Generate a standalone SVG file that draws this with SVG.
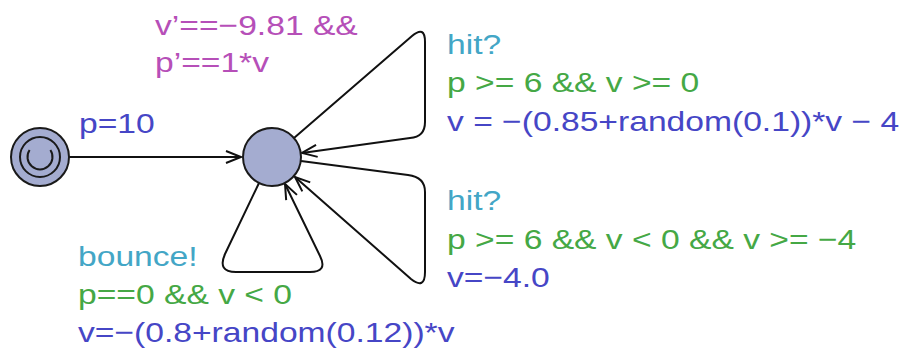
<svg xmlns="http://www.w3.org/2000/svg" width="904" height="350" viewBox="0 0 904 350">
<style>
.bg{fill:#ffffff}
.node{fill:#a4acd0;stroke:#1a1a1a;stroke-width:2}
.ring{fill:none;stroke:#1a1a1a;stroke-width:2}
.edge{fill:none;stroke:#111;stroke-width:2;stroke-linejoin:round}
.t{font-family:"Liberation Sans",Arial,sans-serif;font-size:28.5px}
.inv{fill:#b64fb8}
.sync{fill:#43a6c6}
.guard{fill:#45a845}
.asg{fill:#4646c6}
</style>
<defs>
<marker id="arr" markerUnits="userSpaceOnUse" markerWidth="20" markerHeight="16" viewBox="-16 -8 18 16" refX="0" refY="0" orient="auto">
<path d="M -15 -6 L 0 0 L -15 6" fill="none" stroke="#111" stroke-width="2"/>
</marker>
</defs>
<rect class="bg" x="0" y="0" width="904" height="350"/>
<g id="edges">
<path class="edge" d="M 69 157 L 241 157" marker-end="url(#arr)"/>
<path class="edge" d="M 294 138 L 412 36 Q 425 25 425 42 L 425 122 Q 425 137 410 138 L 302 153" marker-end="url(#arr)"/>
<path class="edge" d="M 301 161 L 408 175 Q 425 177 425 192 L 425 272 Q 425 290 411 279 L 295 177" marker-end="url(#arr)"/>
<path class="edge" d="M 259 183 L 225 254 Q 217 272 236 272 L 310 272 Q 328 272 320 256 L 285 184" marker-end="url(#arr)"/>
</g>
<g id="init">
<circle class="node" cx="40" cy="157" r="29"/>
<circle class="ring" cx="40" cy="157" r="20"/>
<path class="ring" d="M 50.4 150 A 12.5 12.5 0 1 1 29.6 150"/>
</g>
<g id="main">
<circle class="node" cx="272" cy="157" r="29"/>
</g>
<g id="labels">
<text class="t asg" transform="translate(79 133) scale(1.18 1)">p=10</text>
<text class="t inv" transform="translate(155 35) scale(1.18 1)">v’==−9.81 &amp;&amp;</text>
<text class="t inv" transform="translate(155 72) scale(1.18 1)">p’==1*v</text>
<text class="t sync" transform="translate(447 54) scale(1.18 1)">hit?</text>
<text class="t guard" transform="translate(447 92) scale(1.18 1)">p &gt;= 6 &amp;&amp; v &gt;= 0</text>
<text class="t asg" transform="translate(447 131) scale(1.18 1)">v = −(0.85+random(0.1))*v − 4</text>
<text class="t sync" transform="translate(447 210) scale(1.18 1)">hit?</text>
<text class="t guard" transform="translate(447 249) scale(1.18 1)">p &gt;= 6 &amp;&amp; v &lt; 0 &amp;&amp; v &gt;= −4</text>
<text class="t asg" transform="translate(447 287) scale(1.18 1)">v=−4.0</text>
<text class="t sync" transform="translate(78 266) scale(1.18 1)">bounce!</text>
<text class="t guard" transform="translate(78 304) scale(1.18 1)">p==0 &amp;&amp; v &lt; 0</text>
<text class="t asg" transform="translate(78 342) scale(1.18 1)">v=−(0.8+random(0.12))*v</text>
</g>
</svg>
